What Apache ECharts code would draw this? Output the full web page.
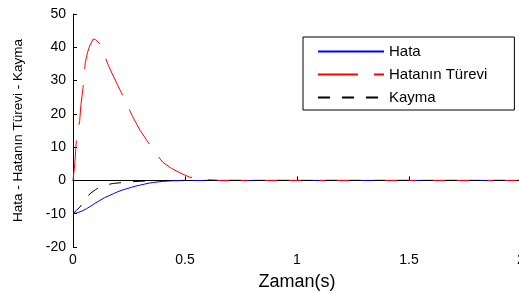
<!DOCTYPE html>
<html><head><meta charset="utf-8">
<script src="https://cdn.jsdelivr.net/npm/echarts@6/dist/echarts.min.js"></script>
<style>html,body{margin:0;padding:0;background:#fff}#c{width:519px;height:293px}</style>
</head><body><div id="c"></div>
<script>
var xTicks = [0, 0.5, 1, 1.5, 2];
var yTicks = [-20, -10, 0, 10, 20, 30, 40, 50];
var hataT = [0,0.02,0.04,0.06,0.08,0.1,0.12,0.14,0.16,0.18,0.2,0.22,0.24,0.26,0.28,0.3,0.32,0.34,0.36,0.38,0.4,0.42,0.45,0.5,0.6,2];
var hataV = [-10,-9.7,-9.2,-8.5,-7.7,-6.8,-6.0,-5.2,-4.6,-4.0,-3.4,-2.9,-2.5,-2.1,-1.7,-1.4,-1.1,-0.8,-0.6,-0.45,-0.3,-0.2,-0.1,-0.05,0,0];
var turevT = [0,0.008,0.015,0.03,0.035,0.045,0.055,0.065,0.075,0.09,0.1,0.12,0.135,0.16,0.2,0.237,0.266,0.3,0.33,0.36,0.4,0.44,0.48,0.52,0.58,0.65,2];
var turevV = [0,5,12,18,22.5,28,35.5,38.5,40.5,42.5,42.3,41,38.5,34.2,28.5,23.5,19.2,15,12,9,5.5,3.6,2.2,1.0,0.3,0,0];
var kaymaT = [0,0.015,0.031,0.045,0.06,0.08,0.1,0.12,0.15,0.18,0.21,0.24,0.3,0.37,0.45,2];
var kaymaV = [-10,-9,-8,-6.5,-5,-3.8,-2.8,-2,-1.3,-0.9,-0.7,-0.5,-0.25,-0.1,0,0];
function zip(a,b){return a.map(function(v,i){return [v,b[i]];});}
var chart = echarts.init(document.getElementById('c'));
var F = 'Liberation Sans, Arial, sans-serif';
chart.setOption({
  animation:false,
  textStyle:{fontFamily:F},
  grid:{left:73, top:14, width:448, bottom:46, containLabel:false, outerBoundsMode:'none'},
  xAxis:{type:'value', min:0, max:2, interval:0.5,
    name:'Zaman(s)', nameLocation:'middle', nameGap:26,
    nameTextStyle:{fontSize:18, color:'#000', fontFamily:F},
    axisLine:{lineStyle:{color:'#000', width:1}},
    axisTick:{inside:true, length:4, lineStyle:{color:'#000'}},
    axisLabel:{fontSize:14, color:'#000', margin:6, fontFamily:F,
      formatter:function(v){return String(v);}},
    splitLine:{show:false}},
  yAxis:{type:'value', min:-20, max:50, interval:10,
    name:'Hata - Hatanın Türevi - Kayma', nameLocation:'middle', nameGap:48,
    nameTextStyle:{fontSize:13.5, color:'#000', fontFamily:F},
    axisLine:{show:true, lineStyle:{color:'#000', width:1}},
    axisTick:{show:true, inside:true, length:4, lineStyle:{color:'#000'}},
    axisLabel:{fontSize:14, color:'#000', margin:7, fontFamily:F},
    splitLine:{show:false}},
  legend:{left:303, top:37, orient:'vertical', itemWidth:66, itemHeight:14, itemGap:8,
    padding:[7,27,5,14], backgroundColor:'#fff', borderColor:'#000', borderWidth:1, borderRadius:0,
    itemStyle:{opacity:0},
    textStyle:{fontSize:15, color:'#000', fontFamily:F},
    data:['Hata','Hatanın Türevi','Kayma']},
  series:[
    {name:'Hata', type:'line', data:zip(hataT,hataV), symbol:'none', color:'#0000ff',
      lineStyle:{color:'#0000ff', width:1}},
    {name:'Hatanın Türevi', type:'line', data:zip(turevT,turevV), symbol:'none', color:'#ff0000',
      lineStyle:{color:'#ff0000', width:1, type:[40,16]}},
    {name:'Kayma', type:'line', data:zip(kaymaT,kaymaV), symbol:'none', color:'#000',
      lineStyle:{color:'#000', width:1, type:[12,12]}}
  ]
});
</script></body></html>
